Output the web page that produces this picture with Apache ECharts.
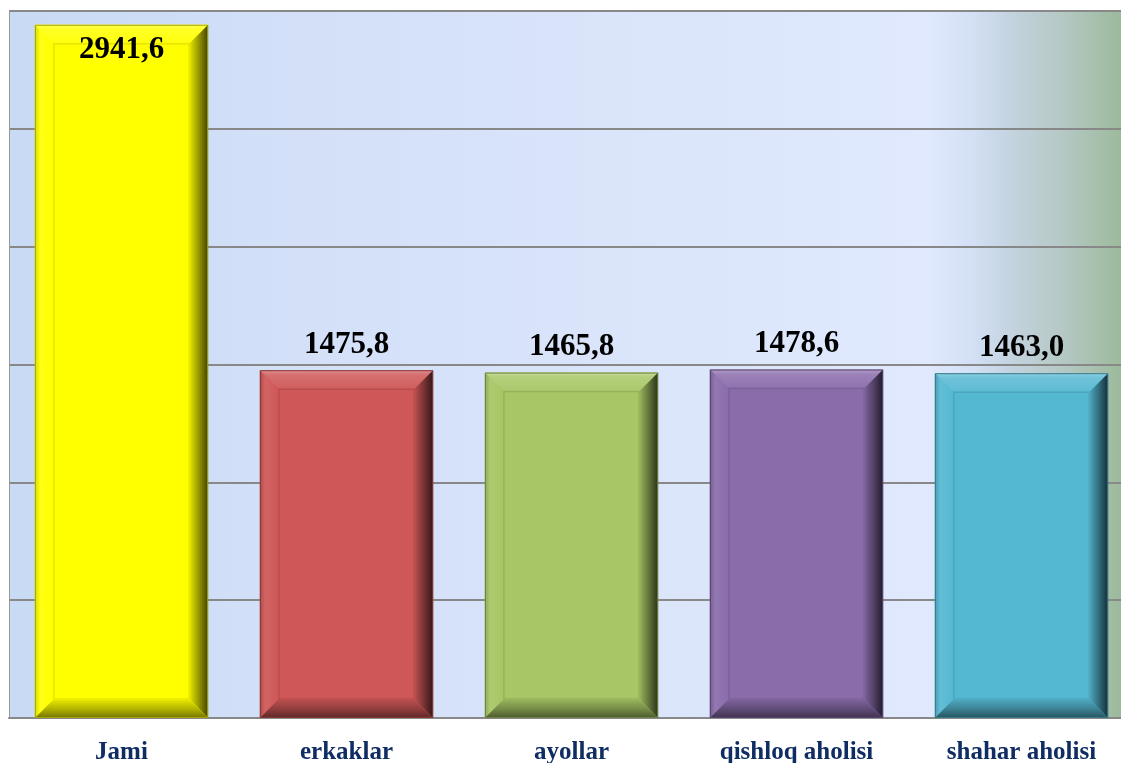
<!DOCTYPE html>
<html>
<head>
<meta charset="utf-8">
<script src="https://cdn.jsdelivr.net/npm/echarts@6/dist/echarts.min.js"></script>
<style>
html,body{margin:0;padding:0;background:#fff;}
#chart{width:1121px;height:763px;}
</style>
</head>
<body>
<div id="chart"></div>
<script>
const categories = ['Jami', 'erkaklar', 'ayollar', 'qishloq aholisi', 'shahar aholisi'];
const values = [2941.6, 1475.8, 1465.8, 1478.6, 1463.0];
const valueLabels = ['2941,6', '1475,8', '1465,8', '1478,6', '1463,0'];
const barColors = ['#FFFF00', '#CF5757', '#A8C665', '#8A6CAB', '#55B8D2'];

function mix(hex, target, t) {
  const p = echarts.color.parse(hex);
  const q = echarts.color.parse(target);
  const r = [0,1,2].map(k => Math.round(p[k] + (q[k] - p[k]) * t));
  return 'rgb(' + r.join(',') + ')';
}
const light = (c, t) => mix(c, '#ffffff', t);
const dark = (c, t) => mix(c, '#000000', t);

function renderItem(params, api) {
  const i = api.value(0);
  const v = api.value(1);
  const top = api.coord([i, v]);
  const base = api.coord([i, 0]);
  const cw = api.size([1, 0])[0];
  const w = cw * 0.77;
  const x = top[0] - w / 2, y = top[1], h = base[1] - top[1];
  const b = 18;
  const c = barColors[i];
  const isJami = i === 0;
  const children = [
    { type: 'rect', shape: { x: x, y: y, width: w, height: h }, style: { fill: c } },
    { type: 'polygon', shape: { points: [[x, y], [x + w, y], [x + w - b, y + b], [x + b, y + b]] },
      style: { fill: { type: 'linear', x: 0, y: 0, x2: 0, y2: 1, colorStops: [
        { offset: 0, color: light(c, 0.35) }, { offset: 0.25, color: light(c, 0.15) }, { offset: 1, color: light(c, 0.05) }] } } },
    { type: 'polygon', shape: { points: [[x, y], [x + b, y + b], [x + b, y + h - b], [x, y + h]] },
      style: { fill: { type: 'linear', x: 0, y: 0, x2: 1, y2: 0, colorStops: [
        { offset: 0, color: dark(c, 0.15) }, { offset: 0.3, color: light(c, 0.08) }, { offset: 1, color: c }] } } },
    { type: 'polygon', shape: { points: [[x + w, y], [x + w, y + h], [x + w - b, y + h - b], [x + w - b, y + b]] },
      style: { fill: { type: 'linear', x: 1, y: 0, x2: 0, y2: 0, colorStops: [
        { offset: 0, color: dark(c, 0.75) }, { offset: 0.5, color: dark(c, 0.42) }, { offset: 1, color: dark(c, 0.12) }] } } },
    { type: 'polygon', shape: { points: [[x, y + h], [x + w, y + h], [x + w - b, y + h - b], [x + b, y + h - b]] },
      style: { fill: { type: 'linear', x: 0, y: 1, x2: 0, y2: 0, colorStops: [
        { offset: 0, color: dark(c, 0.55) }, { offset: 0.5, color: dark(c, 0.3) }, { offset: 1, color: dark(c, 0.1) }] } } },
    { type: 'rect', shape: { x: x + b + 1, y: y + b + 1, width: w - 2 * b - 2, height: h - 2 * b - 2 },
      style: { fill: null, stroke: dark(c, 0.1), lineWidth: 1.5 } },
    { type: 'rect', shape: { x: x + 0.5, y: y + 0.5, width: w - 1, height: h - 1 },
      style: { fill: null, stroke: dark(c, 0.35), lineWidth: 1 } },
    { type: 'text', x: top[0], y: isJami ? y + 10 : y - 10,
      style: { text: valueLabels[i], fill: '#000', font: 'bold 31px "Liberation Serif", "Times New Roman", serif',
        align: 'center', verticalAlign: isJami ? 'top' : 'bottom' }, z2: 10 }
  ];
  return { type: 'group', children: children };
}

const gridLeft = 9, gridWidth = 1125;
function off(px) { return (px - gridLeft) / gridWidth; }

const chart = echarts.init(document.getElementById('chart'), null, { renderer: 'canvas' });
chart.setOption({
  animation: false,
  backgroundColor: '#ffffff',
  grid: {
    left: gridLeft, top: 11, width: gridWidth, bottom: 45, show: true, borderWidth: 0,
    outerBoundsMode: 'none', containLabel: false,
    backgroundColor: { type: 'linear', x: 0, y: 0, x2: 1, y2: 0, colorStops: [
      { offset: 0, color: '#C8DAF4' },
      { offset: off(300), color: '#D3E0F8' },
      { offset: off(700), color: '#DCE6FB' },
      { offset: off(930), color: '#E0E9FD' },
      { offset: off(975), color: '#D2DFF4' },
      { offset: off(1010), color: '#C4D3E0' },
      { offset: off(1060), color: '#B6C9C6' },
      { offset: off(1121), color: '#9CBA9C' },
      { offset: 1, color: '#96B696' }] }
  },
  xAxis: {
    type: 'category', data: categories,
    axisLine: { show: true, lineStyle: { color: '#888888', width: 2 } },
    axisTick: { show: false },
    axisLabel: { margin: 22, color: '#0F2D63', fontSize: 25, fontWeight: 'bold', fontFamily: '"Liberation Serif", "Times New Roman", serif' },
    splitLine: { show: false }
  },
  yAxis: {
    type: 'value', min: 0, max: 3000, interval: 500,
    axisLine: { show: true, lineStyle: { color: '#999999', width: 1 } },
    axisTick: { show: false },
    axisLabel: { show: false },
    splitLine: { show: true, lineStyle: { color: '#888888', width: 2 } }
  },
  series: [{
    type: 'custom',
    renderItem: renderItem,
    encode: { x: 0, y: 1 },
    data: values.map((v, i) => [i, v])
  }]
});
</script>
</body>
</html>
